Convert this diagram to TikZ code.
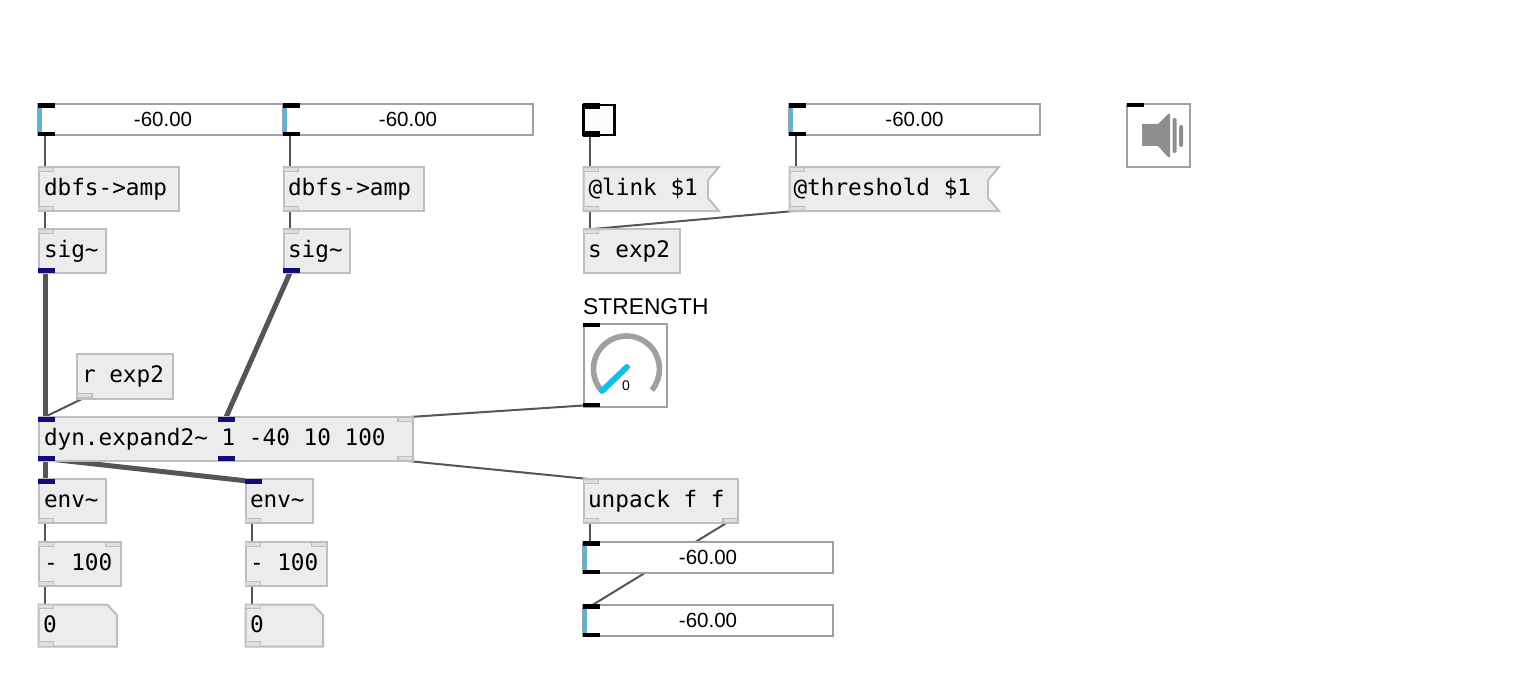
\documentclass[tikz,border=0pt]{standalone}
\usepackage{fontspec}
\setmainfont{Liberation Sans}
\newfontfamily\pdmono{DejaVu Sans Mono}
\pgfdeclarelayer{wires}
\pgfsetlayers{wires,main}
\definecolor{objfill}{HTML}{ECECEC}
\definecolor{objline}{HTML}{BEBEBE}
\definecolor{portfill}{HTML}{DEDEDE}
\definecolor{navyport}{HTML}{100C80}
\definecolor{wirecol}{HTML}{555555}
\definecolor{uiline}{HTML}{A0A0A0}
\definecolor{cyanbar}{HTML}{5FB4D2}
\definecolor{needle}{HTML}{14BDF0}
\definecolor{spk}{HTML}{8E8E8E}
\tikzset{
  x=1pt,y=-1pt,
  objbox/.style={draw=objline,fill=objfill,line width=2pt,inner sep=0pt,outer sep=0pt},
  objtext/.style={inner sep=0pt,outer sep=0pt,anchor=west,yshift=-0.9pt,font=\pdmono\fontsize{22.7}{26}\selectfont,text height=17pt,text depth=5pt},
  portgrey/.style={draw=objline,fill=portfill,line width=1.2pt,minimum width=15pt,minimum height=4.5pt,inner sep=0pt,outer sep=0pt},
  portnavy/.style={fill=navyport,minimum width=17pt,minimum height=5.4pt,inner sep=0pt,outer sep=0pt},
  portblack/.style={fill=black,minimum width=17pt,minimum height=4.5pt,inner sep=0pt,outer sep=0pt},
  uibox/.style={draw=uiline,fill=white,line width=2pt,inner sep=0pt,outer sep=0pt},
  numtext/.style={font=\fontsize{20.5}{24}\selectfont,inner sep=0pt},
  thin wire/.style={draw=wirecol,line width=2pt},
  thick wire/.style={draw=wirecol,line width=5pt},
}
% name x0 y0 x1 y1
\newcommand{\pdbox}[5]{\node[objbox,minimum width=#4pt-#2pt,minimum height=#5pt-#3pt] (#1) at ({(#2+#4)/2},{(#3+#5)/2}) {};}
\newcommand{\pdlabel}[4]{\node[objtext] (#1) at (#2,#3) {#4};}
\newcommand{\pdnum}[4]{% name x0 x1 y0
  \node[uibox,minimum width=#3pt-#2pt,minimum height=31pt] (#1) at ({(#2+#3)/2},#4+15.7) {};
  \node[numtext] (#1-t) at ({(#2+#3)/2},#4+15.6) {-60.00};
  \fill[cyanbar] (#2-0.5,#4) rectangle (#2+3.5,#4+31.5);
  \node[portblack] (#1-i) at (#2+8,#4+1.5) {};
  \node[portblack] (#1-o) at (#2+8,#4+30) {};
}
\newcommand{\wire}[3]{\draw[#1] ([xshift=-1pt]#2) -- ([xshift=-1pt]#3);}
\begin{document}
\begin{tikzpicture}
\useasboundingbox (0,0) rectangle (1515,682);

% number boxes, top row
\pdnum{na}{38}{288}{104}
\pdnum{nb}{283}{533}{104}
\pdnum{nt}{789}{1040}{104}

% toggle
\node[draw=black,fill=white!99!black,line width=2.2pt,minimum width=31pt,minimum height=30pt,inner sep=0pt] (tog) at (599,120) {};
\node[portblack,minimum height=5.5pt] (tog-i) at (591,106) {};
\node[portblack,minimum height=5.5pt] (tog-o) at (591,134) {};

% speaker
\node[uibox,minimum width=63pt,minimum height=63pt] (dac) at (1158.5,135.5) {};
\node[portblack,minimum height=3.5pt] (dac-i) at (1135,105) {};
\fill[spk] (1142,124) -- (1158,124) -- (1168,114) -- (1170,114) -- (1170,157) -- (1168,157) -- (1158,146) -- (1142,146) -- cycle;
\fill[spk,rounded corners=1.5pt] (1172.5,118) rectangle (1176.5,153);
\fill[spk,rounded corners=1.5pt] (1179,125) rectangle (1183,147);

% dbfs->amp
\pdbox{dba}{38.5}{167}{179}{211}
\pdlabel{dbat}{44}{189}{dbfs->amp}
\node[portgrey] (dba-i) at (46,169.5) {};
\node[portgrey] (dba-o) at (46,208.5) {};
\pdbox{dbb}{283.5}{167}{424}{211}
\pdlabel{dbbt}{288}{189}{dbfs->amp}
\node[portgrey] (dbb-i) at (291,169.5) {};
\node[portgrey] (dbb-o) at (291,208.5) {};

% sig~
\pdbox{sa}{38.5}{229}{106}{273}
\pdlabel{sat}{44}{251}{sig\char`\~}
\node[portgrey] (sa-i) at (46,231.5) {};
\node[portnavy] (sa-o) at (46,270.5) {};
\pdbox{sb}{283.5}{229}{350}{273}
\pdlabel{sbt}{288}{251}{sig\char`\~}
\node[portgrey] (sb-i) at (291,231.5) {};
\node[portnavy] (sb-o) at (291,270.5) {};

% message boxes
\path[objbox] (583.5,167) -- (719,167) -- (708,180) -- (708,198) -- (719,211) -- (583.5,211) -- cycle;
\node[objtext] (lnk) at (588.5,189) {@link \$1};
\node[portgrey] (lnk-i) at (591,169.5) {};
\node[portgrey] (lnk-o) at (591,208.5) {};
\path[objbox] (789.5,167) -- (999,167) -- (988,180) -- (988,198) -- (999,211) -- (789.5,211) -- cycle;
\node[objtext] (thr) at (793.5,189) {@threshold \$1};
\node[portgrey] (thr-i) at (797,169.5) {};
\node[portgrey] (thr-o) at (797,208.5) {};

% s exp2
\pdbox{snd}{583.5}{229}{680}{273}
\pdlabel{sndt}{588}{251}{s exp2}
\node[portgrey] (snd-i) at (591,231.5) {};

% knob
\node[anchor=west,inner sep=0pt,font=\fontsize{22.8}{26}\selectfont] (strength) at (583,307) {STRENGTH};
\node[uibox,minimum width=83pt,minimum height=83pt] (knob) at (625,365) {};
\node[portblack] (knob-i) at (591,325) {};
\node[portblack] (knob-o) at (591,405) {};
\draw[uiline,line width=5.6pt] (601.2,390.2) arc[start angle=220,end angle=-40,radius=33pt];
\draw[needle,line width=6pt,line cap=round] (602,391) -- (627,367);
\node[inner sep=0pt,font=\fontsize{14}{16}\selectfont] (knobval) at (626,386) {0};

% r exp2
\pdbox{rcv}{77}{354}{173}{399}
\pdlabel{rcvt}{82}{376}{r exp2}
\node[portgrey] (rcv-o) at (84.5,395.5) {};

% dyn.expand2~
\pdbox{dyn}{38.5}{417}{413}{461}
\pdlabel{dynt}{44}{439}{dyn.expand2\char`\~{} 1 -40 10 100}
\node[portnavy] (dyn-ia) at (46,419.5) {};
\node[portnavy] (dyn-ib) at (226,419.5) {};
\node[portgrey] (dyn-ic) at (405.5,419.5) {};
\node[portnavy] (dyn-oa) at (46,458.5) {};
\node[portnavy] (dyn-ob) at (226,458.5) {};
\node[portgrey] (dyn-oc) at (405.5,458.5) {};

% env~
\pdbox{ea}{38.5}{479}{106}{523}
\pdlabel{eat}{44}{501}{env\char`\~}
\node[portnavy] (ea-i) at (46,481.5) {};
\node[portgrey] (ea-o) at (46,520.5) {};
\pdbox{eb}{245.5}{479}{313}{523}
\pdlabel{ebt}{250}{501}{env\char`\~}
\node[portnavy] (eb-i) at (253,481.5) {};
\node[portgrey] (eb-o) at (253,520.5) {};

% - 100
\pdbox{ma}{38.5}{542}{121}{586}
\pdlabel{mat}{44}{564}{- 100}
\node[portgrey] (ma-i) at (46,544.5) {};
\node[portgrey] (ma-j) at (113,544.5) {};
\node[portgrey] (ma-o) at (46,583.5) {};
\pdbox{mb}{245.5}{542}{327}{586}
\pdlabel{mbt}{250}{564}{- 100}
\node[portgrey] (mb-i) at (253,544.5) {};
\node[portgrey] (mb-j) at (319,544.5) {};
\node[portgrey] (mb-o) at (253,583.5) {};

% number atoms
\path[objbox] (38.5,604.5) -- (107,604.5) -- (117,615) -- (117,646.5) -- (38.5,646.5) -- cycle;
\node[objtext] (oa) at (43,626) {0};
\node[portgrey] (oa-i) at (46,606.5) {};
\node[portgrey] (oa-o) at (46,644) {};
\path[objbox] (245.5,604.5) -- (313,604.5) -- (323,615) -- (323,646.5) -- (245.5,646.5) -- cycle;
\node[objtext] (ob) at (250,626) {0};
\node[portgrey] (ob-i) at (253,606.5) {};
\node[portgrey] (ob-o) at (253,644) {};

% unpack
\pdbox{unp}{583.5}{479}{738}{523}
\pdlabel{unpt}{588}{501}{unpack f f}
\node[portgrey] (unp-i) at (591,481.5) {};
\node[portgrey] (unp-oa) at (591,520.5) {};
\node[portgrey] (unp-ob) at (730.5,520.5) {};

\pdnum{nc}{583}{833}{542}
\pdnum{nd}{583}{833}{605}

% connectors
\begin{pgfonlayer}{wires}
\wire{thin wire}{na-o.center}{dba-i.center}
\wire{thin wire}{dba-o.center}{sa-i.center}
\wire{thin wire}{nb-o.center}{dbb-i.center}
\wire{thin wire}{dbb-o.center}{sb-i.center}
\wire{thick wire}{sa-o.center}{dyn-ia.center}
\draw[thick wire] (sb-o.center) -- ([xshift=-1pt]dyn-ib.center);
\draw[thin wire] (rcv-o.south) -- ([xshift=-1pt]dyn-ia.north);
\wire{thick wire}{dyn-oa.center}{ea-i.center}
\wire{thick wire}{dyn-oa.center}{eb-i.center}
\wire{thin wire}{ea-o.center}{ma-i.center}
\wire{thin wire}{ma-o.center}{oa-i.center}
\wire{thin wire}{eb-o.center}{mb-i.center}
\wire{thin wire}{mb-o.center}{ob-i.center}
\wire{thin wire}{tog-o.center}{lnk-i.center}
\wire{thin wire}{nt-o.center}{thr-i.center}
\wire{thin wire}{lnk-o.center}{snd-i.center}
\draw[thin wire] (thr-o.south) -- ([xshift=-1pt]snd-i.north);
\draw[thin wire] (dyn-ic.north) -- (knob-o.center);
\draw[thin wire] (dyn-oc.south) -- (unp-i.north);
\wire{thin wire}{unp-oa.center}{nc-i.center}
\draw[thin wire] (unp-ob.center) -- ([xshift=-1pt]nd-i.center);
\end{pgfonlayer}
\end{tikzpicture}
\end{document}
